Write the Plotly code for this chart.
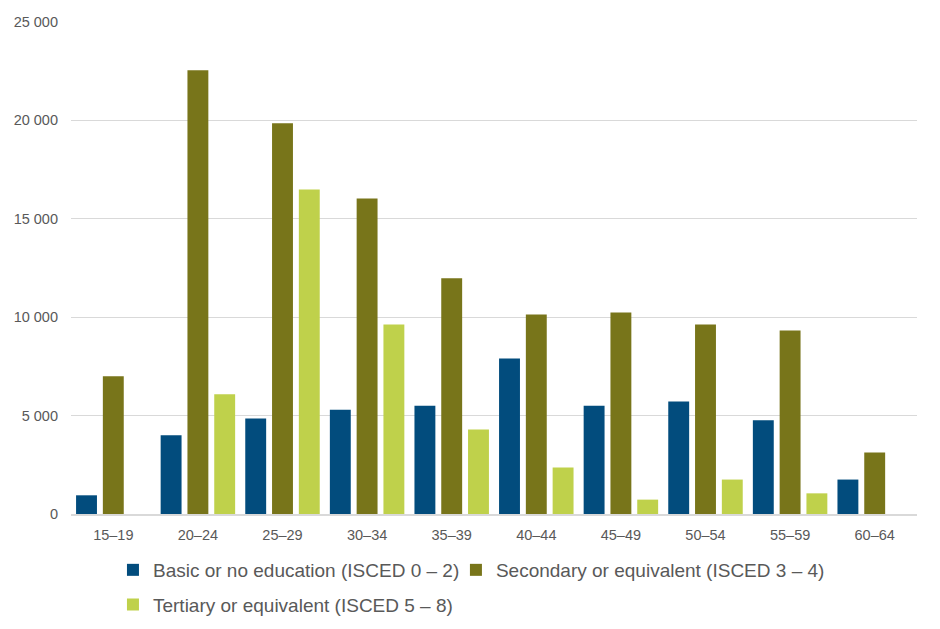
import plotly.graph_objects as go

age_groups = ["15–19", "20–24", "25–29", "30–34", "35–39",
              "40–44", "45–49", "50–54", "55–59", "60–64"]
basic = [950, 4000, 4850, 5300, 5500, 7900, 5500, 5720, 4760, 1750]
secondary = [7000, 22550, 19850, 16030, 11980, 10140, 10240, 9630, 9330, 3130]
tertiary = [None, 6080, 16490, 9630, 4290, 2360, 730, 1750, 1050, None]

names = ["Basic or no education (ISCED 0 – 2)",
         "Secondary or equivalent (ISCED 3 – 4)",
         "Tertiary or equivalent (ISCED 5 – 8)"]
colors = ["#024c7d", "#78751a", "#bfd14b"]
legend_ids = ["legend", "legend2", "legend3"]

fig = go.Figure()
for name, vals, col, lg in zip(names, [basic, secondary, tertiary], colors, legend_ids):
    fig.add_trace(go.Bar(x=age_groups, y=vals, name=name, marker_color=col,
                         marker_line_width=0, legend=lg, showlegend=True))

# one legend per entry so each can sit where the original puts it
legend_style = dict(orientation="h", xanchor="left", yanchor="middle",
                    font=dict(size=19, color="#595959"),
                    itemwidth=30, bgcolor="rgba(0,0,0,0)", visible=True)

# page body has an 8px margin, so the figure is a bit smaller than the window
fig.update_layout(
    width=932, height=621,
    showlegend=True,
    plot_bgcolor="white", paper_bgcolor="white",
    font=dict(family="Arial, Liberation Sans, sans-serif", color="#595959"),
    separators=", ",
    barmode="group", bargap=0.05, bargroupgap=0.22,
    margin=dict(l=63, r=23, t=14, b=115, autoexpand=False),
    xaxis=dict(showline=True, linecolor="#d9d9d9", linewidth=1.5,
               tickfont=dict(size=14.5), ticks="", ticklabelstandoff=7),
    yaxis=dict(range=[0, 25000], dtick=5000, tickformat=",d",
               gridcolor="#d9d9d9", gridwidth=1.2, zeroline=False,
               tickfont=dict(size=14.5), ticks="", ticklabelstandoff=12),
    legend=dict(x=0.0496, y=-0.1138, **legend_style),
    legend2=dict(x=0.455, y=-0.1138, **legend_style),
    legend3=dict(x=0.0496, y=-0.184, **legend_style),
)

fig.write_html("out.html")
